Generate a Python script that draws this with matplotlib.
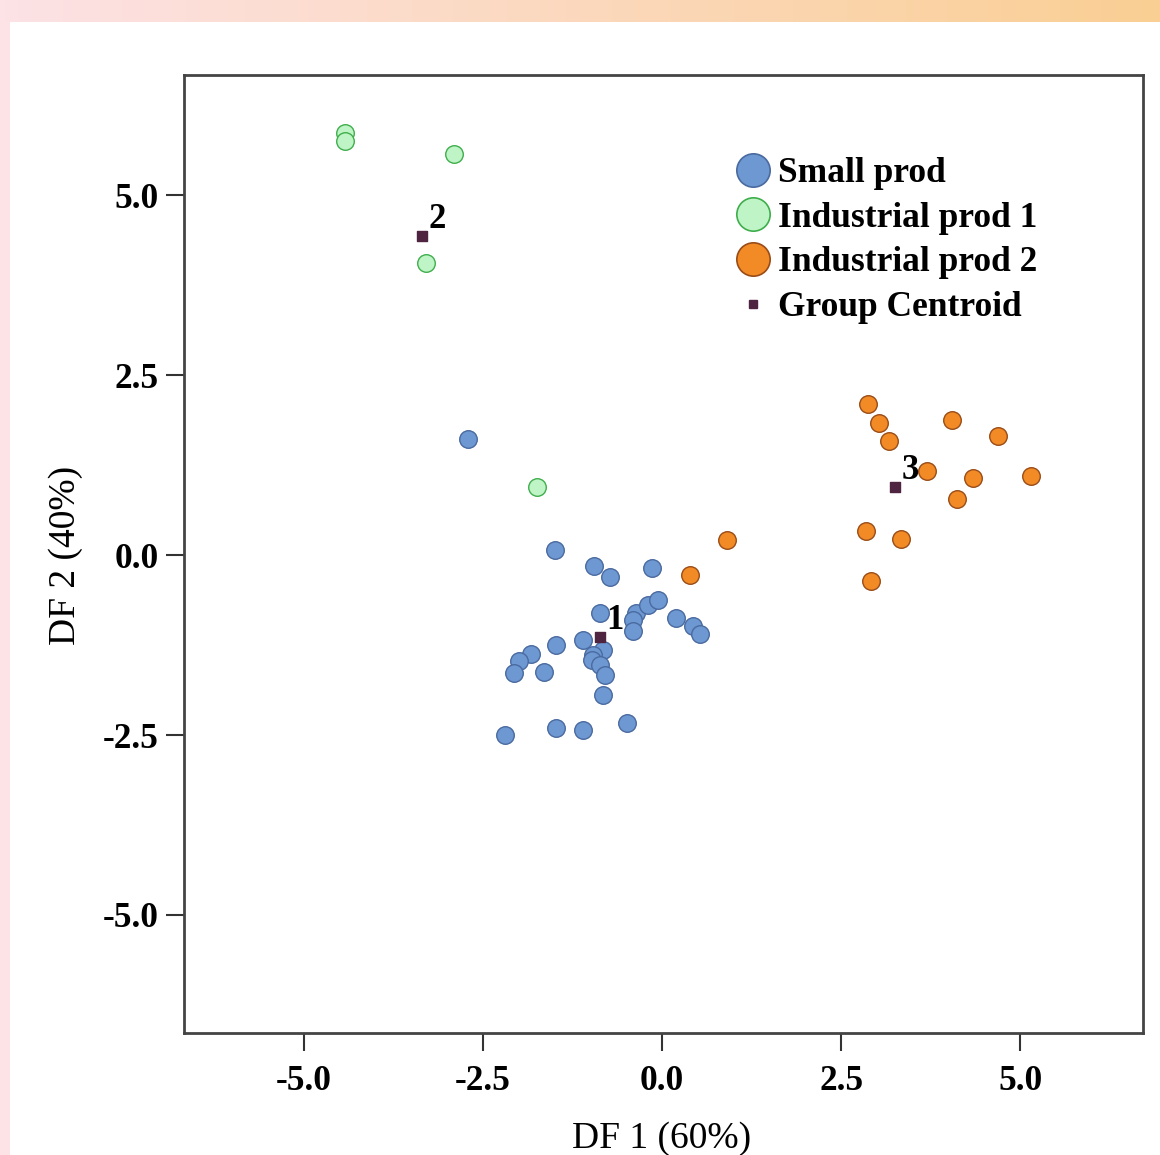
import numpy as np
import matplotlib.pyplot as plt
from matplotlib.lines import Line2D
from matplotlib.patches import Rectangle

# discriminant scores
small_x = [-2.71, -1.49, -0.95, -0.73, -0.14, -0.86, -0.36, -0.40, -0.19, -0.05,
           -0.40, 0.20, 0.43, 0.53, -1.48, -1.11, -0.83, -0.96, -0.98, -0.86,
           -0.80, -1.83, -1.99, -2.07, -1.65, -0.83, -2.19, -1.48, -1.11, -0.49]
small_y = [1.61, 0.07, -0.15, -0.31, -0.18, -0.81, -0.80, -0.90, -0.70, -0.62,
           -1.06, -0.87, -0.99, -1.09, -1.25, -1.18, -1.32, -1.39, -1.46, -1.53,
           -1.67, -1.38, -1.47, -1.64, -1.63, -1.94, -2.50, -2.40, -2.43, -2.33]

ind1_x = [-4.42, -4.42, -2.90, -3.29, -1.74]
ind1_y = [5.86, 5.75, 5.57, 4.06, 0.94]

ind2_x = [0.91, 0.39, 2.88, 3.03, 3.17, 4.05, 4.69, 3.69, 4.34, 5.15, 4.11, 2.85, 3.34, 2.91]
ind2_y = [0.21, -0.28, 2.10, 1.83, 1.58, 1.88, 1.66, 1.17, 1.07, 1.10, 0.78, 0.34, 0.23, -0.36]

cent_x = [-0.87, -3.35, 3.25]
cent_y = [-1.14, 4.43, 0.95]
cent_lab = ["1", "2", "3"]

ticks = [-5.0, -2.5, 0.0, 2.5, 5.0]

plt.rcParams['font.family'] = ['Liberation Serif', 'DejaVu Serif']

fig = plt.figure(figsize=(11.6, 11.55), dpi=100)
fig.patch.set_facecolor('white')

# background strips (pink -> orange band on top, pink band on left)
bg = fig.add_axes([0, 0, 1, 1])
bg.axis('off')
c0 = np.array([253, 226, 230]) / 255
c1 = np.array([250, 207, 148]) / 255
t = np.linspace(0, 1, 256)[:, None]
grad = (c0 * (1 - t) + c1 * t)[None, :, :]
bg.imshow(grad, extent=[0, 1160, 22, 0], aspect='auto')
bg.add_patch(Rectangle((0, 22), 10, 1133, color=c0, lw=0))
bg.set_xlim(0, 1160)
bg.set_ylim(1155, 0)

ax = fig.add_axes([184 / 1160, 1 - 1033 / 1155, 959 / 1160, 958 / 1155])

blue = dict(c='#6d98d2', edgecolors='#4a6aa0')
green = dict(c='#bff5c6', edgecolors='#3fae4c')
orange = dict(c='#f28b25', edgecolors='#9a4c18')
s = 160

ax.scatter(small_x, small_y, s=s, linewidths=1.0, zorder=3, **blue)
ax.scatter(ind1_x, ind1_y, s=s, linewidths=1.0, zorder=3, **green)
ax.scatter(ind2_x, ind2_y, s=s, linewidths=1.0, zorder=3, **orange)
ax.scatter(cent_x, cent_y, s=55, marker='s', c='#4e2440', zorder=4)
for x, y, lab in zip(cent_x, cent_y, cent_lab):
    ax.annotate(lab, (x, y), xytext=(5, 0), textcoords='offset points',
                ha='left', va='bottom', fontsize=25, fontweight='bold', zorder=5)

ax.set_xlim(-6.67, 6.71)
ax.set_ylim(-6.64, 6.67)
ax.set_xticks(ticks)
ax.set_yticks(ticks)
ax.set_xticklabels([f"{v:.1f}" for v in ticks])
ax.set_yticklabels([f"{v:.1f}" for v in ticks])
ax.tick_params(direction='out', length=13, width=1.5, color='#333333',
               labelsize=25.5)
ax.tick_params(axis='x', pad=10)
ax.tick_params(axis='y', pad=5)
for lab in ax.get_xticklabels() + ax.get_yticklabels():
    lab.set_fontweight('bold')
for sp in ax.spines.values():
    sp.set_linewidth(2)
    sp.set_color('#444444')

ax.set_xlabel("DF 1 (60%)", fontsize=27)
ax.set_ylabel("DF 2 (40%)", fontsize=27)
ax.xaxis.set_label_coords(0.498, -0.092)
ax.yaxis.set_label_coords(-0.105, 0.499)

handles = [
    Line2D([], [], ls='', marker='o', ms=24, mfc='#6d98d2', mec='#4a6aa0', mew=1.2),
    Line2D([], [], ls='', marker='o', ms=24, mfc='#bff5c6', mec='#3fae4c', mew=1.2),
    Line2D([], [], ls='', marker='o', ms=24, mfc='#f28b25', mec='#9a4c18', mew=1.2),
    Line2D([], [], ls='', marker='s', ms=6, mfc='#4e2440', mec='#4e2440'),
]
labels = ["Small prod", "Industrial prod 1", "Industrial prod 2", "Group Centroid"]
leg = fig.legend(handles, labels, loc='upper left',
                 bbox_to_anchor=(735 / 1160, 1 - 157 / 1155),
                 frameon=False, borderpad=0, borderaxespad=0,
                 handlelength=1.0, handletextpad=0.2, labelspacing=0.33,
                 prop={'family': 'Liberation Serif', 'weight': 'bold', 'size': 25.5})

fig.savefig("out.png", dpi=100)
